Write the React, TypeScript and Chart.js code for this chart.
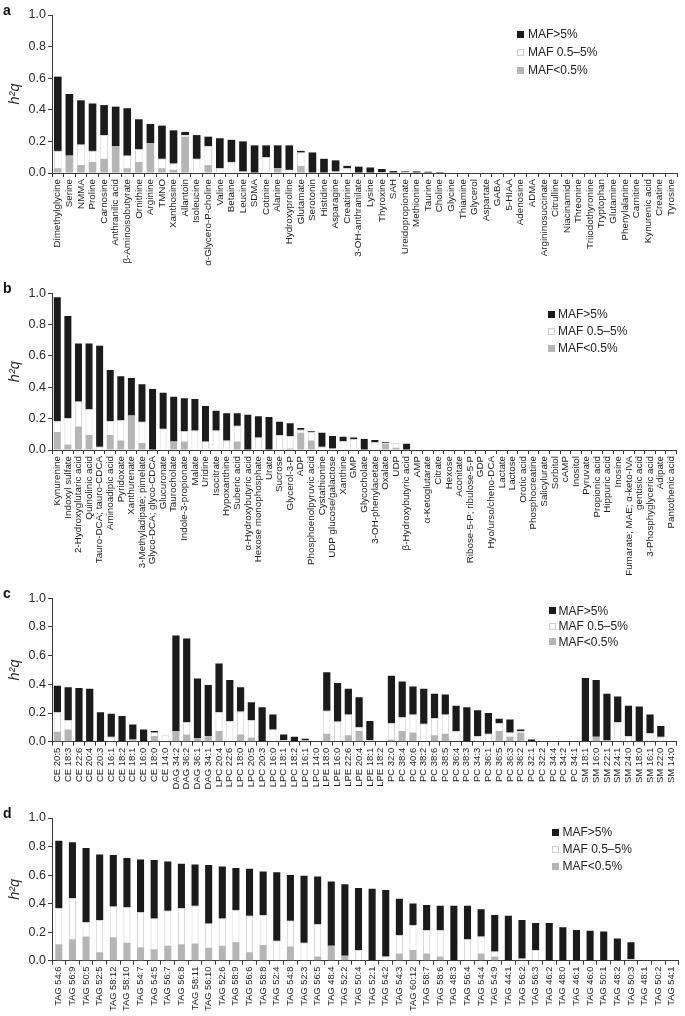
import React, { useEffect, useRef } from "react";
import { Chart, registerables } from "chart.js";
Chart.register(...registerables);

// ---------- Panel a ----------
const aLabels = ["Dimethylglycine","Serine","NMMA","Proline","Carnosine","Anthranilic acid","β-Aminoisobutyrate","Ornithine","Arginine","TMNO","Xanthosine","Allantoin","Isoleucine","α-Glycero-P-choline","Valine","Betaine","Leucine","SDMA","Cotinine","Alanine","Hydroxyproline","Glutamate","Serotonin","Histidine","Asparagine","Creatinine","3-OH-anthranilate","Lysine","Thyroxine","SAH","Ureidopropionate","Methionine","Taurine","Choline","Glycine","Thiamine","Glycerol","Aspartate","GABA","5-HIAA","Adenosine","ADMA","Argininosuccinate","Citrulline","Niacinamide","Threonine","Triiodothyronine","Tryptophan","Glutamine","Phenylalanine","Carnitine","Kynurenic acid","Creatine","Tyrosine"];
const aLow = [0.03,0.11,0.05,0.07,0.09,0.17,0.03,0.07,0.19,0.03,0.02,0.23,0,0.05,0,0,0,0,0,0.03,0,0.045,0,0,0,0,0,0,0,0,0,0,0,0,0,0,0,0,0,0,0,0,0,0,0,0,0,0,0,0,0,0,0,0];
const aMid = [0.11,0,0.13,0.07,0.15,0,0.08,0.08,0,0.06,0.04,0.01,0.09,0.12,0.03,0.07,0.01,0,0.10,0,0.02,0.085,0,0,0.01,0.03,0,0,0.005,0,0.005,0,0,0,0,0,0,0,0,0,0,0,0,0,0,0,0,0,0,0,0,0,0,0];
const aHigh = [0.47,0.39,0.28,0.30,0.19,0.25,0.30,0.19,0.12,0.21,0.21,0.02,0.15,0.06,0.19,0.14,0.19,0.175,0.075,0.145,0.155,0.01,0.13,0.09,0.07,0.015,0.04,0.035,0.02,0.012,0.005,0.01,0.008,0.006,0,0,0,0,0,0,0,0,0,0,0,0,0,0,0,0,0,0,0,0];

// ---------- Panel b ----------
const bLabels = ["Kynurenine","Indoxyl sulfate","2-Hydroxyglutaric acid","Quinolinic acid","Tauro-DCA; tauro-CDCA","Aminoadipic acid","Pyridoxate","Xanthurenate","3-Methyladipate; pimelate","Glyco-DCA; glyco-CDCA","Glucuronate","Taurocholate","Indole-3-propionate","Malate","Uridine","Isocitrate","Hypoxanthine","Suberic acid","α-Hydroxybutyric acid","Hexose monophosphate","Urate","Sucrose","Glycerol-3-P","ADP","Phosphoenolpyruvic acid","Cystathionine","UDP glucose/galactose","Xanthine","GMP","Glycocholate","3-OH-phenylacetate","Oxalate","UDP","β-Hydroxybutyric acid","AMP","α-Ketoglutarate","Citrate","Hexose","Aconitate","Ribose-5-P; ribulose-5-P","GDP","Hyo/urso/cheno-DCA","Lactate","Lactose","Orotic acid","Phosphocreatine","Salicylurate","Sorbitol","cAMP","Inositol","Pyruvate","Propionic acid","Hippuric acid","Inosine","Fumarate; MAE; α-keto-IVA","gentisic acid","3-Phosphyglyceric acid","Adipate","Pantothenic acid"];
const bLow = [0.115,0.035,0.15,0.095,0,0.095,0.06,0.22,0.045,0,0,0.055,0.055,0,0,0,0,0.055,0,0,0,0,0.01,0.11,0.06,0,0,0,0,0,0,0.04,0.015,0,0,0,0,0,0,0,0,0,0,0,0,0,0,0,0,0,0,0,0,0,0,0,0,0,0];
const bMid = [0.07,0.17,0.16,0.165,0.02,0.09,0.13,0,0.135,0,0.135,0,0.065,0.125,0.055,0.125,0.06,0.10,0,0.08,0,0.095,0.08,0.02,0.055,0.02,0.01,0.057,0.068,0,0.05,0.005,0.03,0,0,0,0,0,0,0,0,0,0,0,0,0,0,0,0,0,0,0,0,0,0,0,0,0,0];
const bHigh = [0.79,0.65,0.37,0.42,0.645,0.325,0.28,0.24,0.24,0.39,0.23,0.285,0.21,0.20,0.225,0.125,0.175,0.08,0.225,0.135,0.21,0.085,0.08,0.01,0.005,0.09,0.08,0.028,0.012,0.07,0.014,0.005,0,0.04,0,0,0,0,0,0,0,0,0,0,0,0,0,0,0,0,0,0,0,0,0,0,0,0,0];

// ---------- Panel c ----------
const cLabels = ["CE 20:5","CE 18:3","CE 22:6","CE 20:4","CE 20:3","CE 16:1","CE 18:2","CE 18:1","CE 16:0","CE 18:0","CE 14:0","DAG 34:2","DAG 36:2","DAG 36:1","DAG 34:1","LPC 20:4","LPC 22:6","LPC 18:0","LPC 20:5","LPC 20:3","LPC 16:0","LPC 18:1","LPC 18:2","LPC 16:1","LPC 14:0","LPE 18:0","LPE 16:0","LPE 22:6","LPE 20:4","LPE 18:1","LPE 18:2","PC 32:0","PC 38:4","PC 40:6","PC 38:2","PC 38:6","PC 38:5","PC 36:4","PC 38:3","PC 34:3","PC 36:1","PC 36:5","PC 36:3","PC 36:2","PC 32:1","PC 32:2","PC 34:4","PC 34:2","PC 34:1","SM 18:1","SM 16:0","SM 22:1","SM 24:1","SM 24:0","SM 18:0","SM 16:1","SM 22:0","SM 14:0"];
const cLow = [0.07,0.085,0,0,0,0,0,0.01,0,0.04,0,0.075,0.05,0.025,0.04,0.075,0,0.05,0.03,0,0,0,0,0.01,0,0.055,0,0.045,0.075,0,0,0.015,0.075,0.065,0,0.045,0.055,0,0,0,0,0.075,0.035,0.065,0,0,0,0,0,0,0.035,0.01,0,0,0.005,0,0,0];
const cMid = [0.135,0.065,0,0,0,0.035,0,0.005,0,0.025,0.045,0,0.085,0,0,0.13,0.145,0.16,0.12,0,0.085,0.01,0,0,0,0.16,0.14,0.145,0.025,0.01,0,0.115,0.095,0.125,0.125,0.12,0.135,0.075,0,0.04,0.055,0.055,0.03,0.01,0,0,0,0,0,0.005,0,0,0.135,0.04,0,0.06,0.035,0];
const cHigh = [0.185,0.23,0.375,0.37,0.205,0.16,0.18,0.105,0.085,0.01,0,0.665,0.585,0.415,0.355,0.34,0.285,0.17,0.125,0.24,0.105,0.04,0.035,0.01,0,0.27,0.27,0.18,0.21,0.135,0,0.33,0.25,0.195,0.245,0.17,0.14,0.175,0.24,0.18,0.145,0.03,0.09,0.01,0.015,0,0,0,0,0.44,0.395,0.325,0.18,0.21,0.24,0.13,0.075,0];

// ---------- Panel d ----------
const dLabels = ["TAG 54:6","TAG 56:9","TAG 50:5","TAG 52:5","TAG 58:12","TAG 58:10","TAG 54:7","TAG 54:5","TAG 56:7","TAG 56:8","TAG 58:11","TAG 56:10","TAG 52:6","TAG 58:9","TAG 56:6","TAG 58:8","TAG 52:4","TAG 54:8","TAG 52:3","TAG 56:5","TAG 48:4","TAG 52:2","TAG 50:4","TAG 52:1","TAG 54:2","TAG 54:3","TAG 60:12","TAG 58:7","TAG 58:6","TAG 48:3","TAG 56:4","TAG 54:4","TAG 54:9","TAG 44:1","TAG 56:2","TAG 56:3","TAG 46:2","TAG 48:0","TAG 46:1","TAG 46:0","TAG 50:1","TAG 48:2","TAG 50:3","TAG 48:1","TAG 50:2","TAG 54:1"];
const dLow = [0.115,0.15,0.17,0.06,0.165,0.125,0.095,0.08,0.105,0.115,0.12,0.09,0.105,0.13,0.06,0.11,0,0.10,0,0.03,0.105,0.035,0,0,0,0.05,0.075,0.05,0.03,0,0,0.05,0.03,0,0,0,0,0,0,0,0,0,0,0,0,0];
const dMid = [0.255,0.29,0.10,0.225,0.215,0.25,0.245,0.215,0.245,0.255,0.265,0.17,0.19,0.225,0.255,0.21,0.14,0.18,0.125,0.225,0,0,0.075,0,0.03,0.13,0.175,0.165,0.185,0,0.15,0.12,0.035,0,0.015,0.075,0,0,0,0,0,0,0.01,0,0,0];
const dHigh = [0.47,0.39,0.52,0.46,0.36,0.345,0.37,0.41,0.345,0.31,0.29,0.41,0.365,0.295,0.33,0.305,0.48,0.32,0.47,0.335,0.45,0.50,0.435,0.505,0.465,0.255,0.15,0.175,0.17,0.385,0.235,0.19,0.255,0.315,0.27,0.19,0.265,0.235,0.215,0.21,0.205,0.155,0.12,0,0,0];

const yTicks = [0, 0.2, 0.4, 0.6, 0.8, 1.0];
const legendLabels = ["MAF>5%", "MAF 0.5–5%", "MAF<0.5%"];

const FONT = "'Liberation Sans', Arial, Helvetica, sans-serif";
const W = 685;
const AXIS_X = 52;
const BLACK = "#1b1b1b";
const WHITE = "#ffffff";
const GRAY = "#b5b5b5";
const AXIS = "#3a3a3a";

type PanelProps = {
  letter: string;
  labels: string[];
  low: number[];
  mid: number[];
  high: number[];
  top: number;
  height: number;
  plotTop: number;
  plotBottom: number;
  barPct: number;
  labelSize: number;
  legX: number;
  legTextX: number;
  legRows: number[];
};

function Panel(p: PanelProps) {
  const ref = useRef<HTMLCanvasElement | null>(null);
  useEffect(() => {
    const canvas = ref.current;
    if (!canvas) return;
    const chart = new Chart(canvas, {
      type: "bar",
      data: {
        labels: p.labels,
        datasets: [
          { label: legendLabels[2], data: p.low, backgroundColor: GRAY, borderWidth: 0 },
          { label: legendLabels[1], data: p.mid, backgroundColor: WHITE, borderColor: "#d4d4d4", borderWidth: 1 },
          { label: legendLabels[0], data: p.high, backgroundColor: BLACK, borderWidth: 0 },
        ],
      },
      options: {
        responsive: false,
        maintainAspectRatio: false,
        animation: false,
        layout: { padding: { top: p.plotTop - p.top, right: 1, left: 0, bottom: 0 } },
        plugins: { legend: { display: false }, tooltip: { enabled: false }, title: { display: false } },
        datasets: { bar: { barPercentage: p.barPct, categoryPercentage: 1 } },
        scales: {
          x: {
            stacked: true,
            offset: true,
            grid: { display: true, drawOnChartArea: false, tickLength: 4, color: AXIS, offset: true },
            border: { display: true, color: AXIS, width: 1 },
            ticks: {
              autoSkip: false,
              maxRotation: 90,
              minRotation: 90,
              padding: 2,
              color: "#1e1e1e",
              font: { family: FONT, size: p.labelSize },
            },
            afterFit: (s: any) => {
              s.height = p.top + p.height - p.plotBottom;
            },
          },
          y: {
            stacked: true,
            min: 0,
            max: 1,
            grid: { display: true, drawOnChartArea: false, tickLength: 4, color: AXIS },
            border: { display: true, color: AXIS, width: 1 },
            ticks: {
              padding: 2,
              color: "#2a2a2a",
              font: { family: FONT, size: 12.5 },
              callback: (v: any) => Number(v).toFixed(1),
            },
            afterBuildTicks: (s: any) => {
              s.ticks = yTicks.map((v) => ({ value: v }));
            },
            title: {
              display: true,
              text: "h²q",
              color: "#2a2a2a",
              font: { family: FONT, size: 14.5, style: "italic" },
              padding: { top: 6, bottom: 0 },
            },
            afterFit: (s: any) => {
              s.width = AXIS_X;
            },
          },
        },
      },
    });
    return () => chart.destroy();
  }, []);

  const swatch = [BLACK, WHITE, GRAY];
  return (
    <>
      <canvas
        ref={ref}
        width={W}
        height={p.height}
        style={{ position: "absolute", left: 0, top: p.top, width: W, height: p.height }}
      />
      <div
        style={{
          position: "absolute",
          left: 3,
          top: p.plotTop - 12,
          fontFamily: FONT,
          fontWeight: "bold",
          fontSize: 14,
          lineHeight: "14px",
          color: "#111",
        }}
      >
        {p.letter}
      </div>
      {legendLabels.map((lab, i) => (
        <React.Fragment key={lab}>
          <div
            style={{
              position: "absolute",
              left: p.legX,
              top: p.legRows[i] - 3.5,
              width: 7,
              height: 7,
              boxSizing: "border-box",
              background: swatch[i],
              border: i === 1 ? "1px solid #cfcfcf" : "none",
            }}
          />
          <div
            style={{
              position: "absolute",
              left: p.legTextX,
              top: p.legRows[i] - 7,
              height: 14,
              lineHeight: "14px",
              fontFamily: FONT,
              fontSize: 12,
              color: "#222",
              whiteSpace: "nowrap",
            }}
          >
            {lab}
          </div>
        </React.Fragment>
      ))}
    </>
  );
}

export default function App() {
  return (
    <div style={{ position: "absolute", left: 0, top: 0, width: W, height: 1016, background: "#fff", overflow: "hidden" }}>
      <Panel letter="a" labels={aLabels} low={aLow} mid={aMid} high={aHigh}
        top={0} height={280} plotTop={15} plotBottom={173} barPct={0.66} labelSize={9.8}
        legX={517} legTextX={528} legRows={[34.3, 52.3, 70.3]} />
      <Panel letter="b" labels={bLabels} low={bLow} mid={bMid} high={bHigh}
        top={280} height={305} plotTop={293.3} plotBottom={450} barPct={0.66} labelSize={9.8}
        legX={547.5} legTextX={558} legRows={[314, 331, 348]} />
      <Panel letter="c" labels={cLabels} low={cLow} mid={cMid} high={cHigh}
        top={585} height={205} plotTop={598.3} plotBottom={741.7} barPct={0.67} labelSize={9.5}
        legX={548.5} legTextX={558.5} legRows={[610.7, 626, 641.7]} />
      <Panel letter="d" labels={dLabels} low={dLow} mid={dMid} high={dHigh}
        top={790} height={226} plotTop={818} plotBottom={960.7} barPct={0.52} labelSize={9.3}
        legX={552} legTextX={562.5} legRows={[832.3, 849.3, 866.3]} />
    </div>
  );
}
